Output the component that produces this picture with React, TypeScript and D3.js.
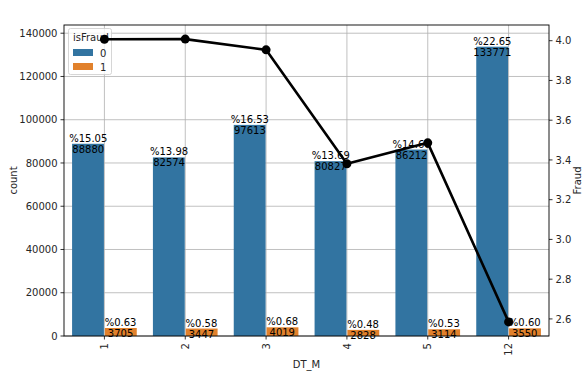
import React from 'react';
import * as d3 from 'd3';

const months = ['1', '2', '3', '4', '5', '12'];
const countNotFraud = [88880, 82574, 97613, 80827, 86212, 133771];
const countFraud = [3705, 3447, 4019, 2828, 3114, 3550];
const pctNotFraud = ['15.05', '13.98', '16.53', '13.69', '14.60', '22.65'];
const pctFraud = ['0.63', '0.58', '0.68', '0.48', '0.53', '0.60'];
const fraudRate = [4.007, 4.008, 3.954, 3.381, 3.486, 2.585];
const leftTicks = [0, 20000, 40000, 60000, 80000, 100000, 120000, 140000];
const rightTicks = [2.6, 2.8, 3.0, 3.2, 3.4, 3.6, 3.8, 4.0];

const W = 587, H = 379;
const L = 64, R = 549, T = 25, B = 336;
const BLUE = '#3274a1', ORANGE = '#e1812c';
const FONT = 'DejaVu Sans, sans-serif';

export default function App() {
  const x = d3.scaleBand().domain(months).range([L, R]).padding(0);
  const bw = x.bandwidth();
  const y = d3.scaleLinear().domain([0, 143800]).range([B, T]);
  const y2 = d3.scaleLinear().domain([2.514, 4.079]).range([B, T]);
  const cx = (m: string) => (x(m) as number) + bw / 2;
  const barW = bw * 0.4;
  const line = d3.line<number>().x((_, i) => cx(months[i])).y((d) => y2(d));

  const barLabel = (xc: number, v: number, pct: string, key: string) => (
    <g key={key} fontFamily={FONT} fontSize={10} fill="#000" textAnchor="middle">
      <text x={xc} y={y(v) - 2}>{'%' + pct}</text>
      <text x={xc} y={y(v) + 9}>{String(v)}</text>
    </g>
  );

  return (
    <svg width={W} height={H} style={{ position: 'absolute', left: 0, top: 0, background: '#fff' }}>
      <rect x={0} y={0} width={W} height={H} fill="#fff" />
      {/* grid */}
      {leftTicks.map((t) => (
        <line key={'gh' + t} x1={L} x2={R} y1={y(t)} y2={y(t)} stroke="#b0b0b0" strokeWidth={0.8} />
      ))}
      {months.map((m) => (
        <line key={'gv' + m} x1={cx(m)} x2={cx(m)} y1={T} y2={B} stroke="#b0b0b0" strokeWidth={0.8} />
      ))}
      {/* bars */}
      {months.map((m, i) => (
        <g key={'b' + m}>
          <rect x={cx(m) - barW} y={y(countNotFraud[i])} width={barW - 0.5} height={B - y(countNotFraud[i])} fill={BLUE} />
          <rect x={cx(m) + 0.5} y={y(countFraud[i])} width={barW - 0.5} height={B - y(countFraud[i])} fill={ORANGE} />
        </g>
      ))}
      {/* bar labels */}
      {months.map((m, i) => barLabel(cx(m) - barW / 2, countNotFraud[i], pctNotFraud[i], 'l0' + m))}
      {months.map((m, i) => barLabel(cx(m) + barW / 2, countFraud[i], pctFraud[i], 'l1' + m))}
      {/* legend */}
      <g fontFamily={FONT} fontSize={10} fill="#262626">
        <rect x={68.5} y={28.5} width={43} height={46} rx={2} fill="#fff" fillOpacity={0.8} stroke="#cccccc" strokeWidth={0.8} />
        <text x={73} y={41}>isFraud</text>
        <rect x={73} y={49} width={20} height={7} fill={BLUE} />
        <text x={100} y={56.5}>0</text>
        <rect x={73} y={63} width={20} height={7} fill={ORANGE} />
        <text x={100} y={70.5}>1</text>
      </g>
      {/* spines */}
      <rect x={L} y={T} width={R - L} height={B - T} fill="none" stroke="#000" strokeWidth={0.9} />
      {/* fraud rate line */}
      <path d={line(fraudRate) || ''} fill="none" stroke="#000" strokeWidth={2.6} strokeLinejoin="round" />
      {fraudRate.map((v, i) => (
        <circle key={'p' + i} cx={cx(months[i])} cy={y2(v)} r={4.5} fill="#000" />
      ))}
      {/* left axis */}
      <g fontFamily={FONT} fontSize={10} fill="#262626">
        {leftTicks.map((t) => (
          <g key={'lt' + t}>
            <line x1={L - 3.5} x2={L} y1={y(t)} y2={y(t)} stroke="#000" strokeWidth={0.8} />
            <text x={L - 6.5} y={y(t) + 3.6} textAnchor="end">{String(t)}</text>
          </g>
        ))}
        {rightTicks.map((t) => (
          <g key={'rt' + t}>
            <line x1={R} x2={R + 3.5} y1={y2(t)} y2={y2(t)} stroke="#000" strokeWidth={0.8} />
            <text x={R + 6.5} y={y2(t) + 3.6}>{t.toFixed(1)}</text>
          </g>
        ))}
        {months.map((m) => (
          <g key={'xt' + m}>
            <line x1={cx(m)} x2={cx(m)} y1={B} y2={B + 3.5} stroke="#000" strokeWidth={0.8} />
            <text transform={`translate(${cx(m) + 3.6},${B + 7}) rotate(-90)`} textAnchor="end">{m}</text>
          </g>
        ))}
        <text x={(L + R) / 2} y={368} textAnchor="middle">DT_M</text>
        <text transform={`translate(16.5,${(T + B) / 2}) rotate(-90)`} textAnchor="middle">count</text>
        <text transform={`translate(580.5,${(T + B) / 2}) rotate(-90)`} textAnchor="middle">Fraud</text>
      </g>
    </svg>
  );
}
